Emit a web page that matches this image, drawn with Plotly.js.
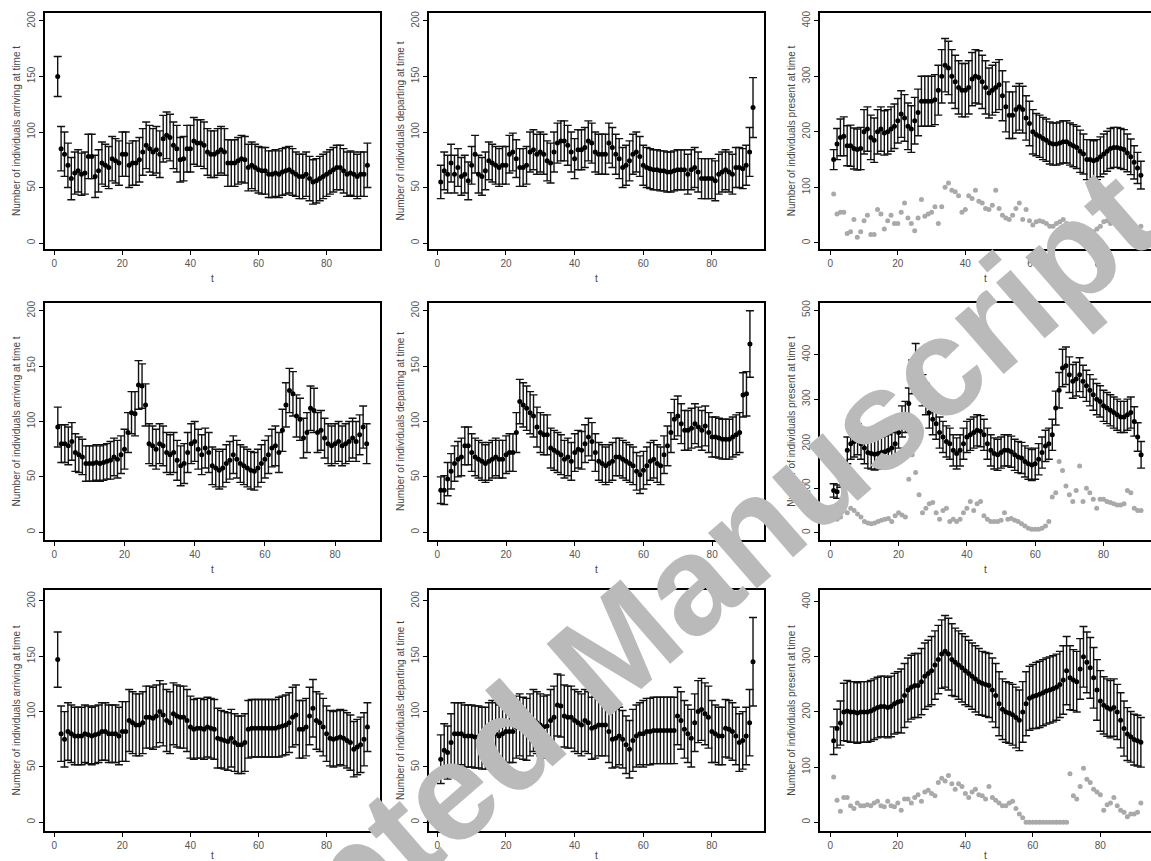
<!DOCTYPE html>
<html>
<head>
<meta charset="utf-8">
<script src="https://cdn.plot.ly/plotly-3.0.1.min.js"></script>
<style>html,body{margin:0;padding:0;background:#fff;}#chart{width:1151px;height:861px;}</style>
</head>
<body>
<div id="chart"></div>
<script>
// ---------- DATA ----------
// Row 1
const arrive1 = [150,85,80,70,58,63,65,62,63,78, 78,60,65,72,70,68,76,74,72,80, 80,70,72,72,75,82,88,85,82,84,
  80,94,97,95,88,85,75,76,85,85, 92,90,90,88,82,80,80,82,84,82, 72,72,72,74,76,75,68,70,68,66,
  65,65,62,62,63,62,64,65,66,64, 62,60,60,62,58,55,56,58,60,62, 64,66,68,68,65,62,63,62,60,62, 62,70];
const arrive1Err = [18,20,20,20,19,19,19,19,19,20, 20,19,19,19,19,19,20,20,20,20, 20,20,20,20,20,21,21,21,21,21,
  21,21,21,21,21,21,20,20,21,21, 21,21,21,21,21,21,21,21,21,21, 21,21,21,21,21,21,21,21,21,21,
  21,21,21,21,21,21,21,21,21,21, 20,20,20,20,20,20,20,20,20,20, 20,20,20,20,20,20,20,20,20,20, 20,20];
const depart1 = [55,65,62,72,62,68,60,62,56,70, 80,62,60,65,74,72,70,68,70,70, 80,82,76,68,68,70,82,84,80,82,
  80,74,72,82,90,92,92,88,82,76, 84,84,86,92,90,82,80,80,80,90, 86,80,76,68,70,74,80,82,78,70,
  68,67,66,66,65,65,64,64,65,66, 66,66,62,66,68,64,58,58,58,58, 56,62,64,66,64,62,68,68,67,70, 82,122];
const depart1Err = [15,17,17,17,17,17,17,17,17,17, 17,17,17,17,17,17,17,17,17,17, 17,17,17,17,17,17,18,18,18,18,
  18,18,18,18,18,18,18,18,18,18, 18,18,18,18,18,18,18,18,18,18, 18,18,18,18,18,18,18,18,18,18,
  18,18,18,18,18,18,18,18,18,18, 18,18,18,18,18,18,18,18,18,18, 18,18,18,18,18,18,18,18,18,18, 22,27];
const present1 = [150,178,190,192,175,175,170,168,170,200, 205,190,185,200,205,198,200,205,210,220,
  232,225,210,205,220,235,255,255,255,255, 258,275,300,320,315,300,290,280,275,275,
  280,295,300,298,290,280,270,275,280,285, 265,245,230,230,240,245,240,225,215,200,
  195,192,188,185,180,178,178,180,182,182, 178,175,172,165,160,150,150,148,150,155,
  160,165,170,172,172,170,168,162,155,145, 135,122];
const present1Err = [18,28,33,35,36,37,37,37,38,40, 40,40,40,40,40,40,40,40,40,40, 42,42,42,42,42,42,45,45,45,45,
  45,45,48,48,48,48,48,48,48,48, 48,48,48,48,48,48,45,45,45,45, 45,45,42,42,42,42,42,40,40,40,
  38,38,38,38,38,38,38,38,38,38, 38,38,38,38,36,36,36,36,36,36, 36,36,36,36,36,36,36,34,32,30, 28,25];
const observed1 = [88,52,55,55,17,20,42,10,20,40, 50,15,15,60,52,25,40,50,35,35, 55,72,45,35,22,45,78,48,52,55,
  65,35,65,100,108,95,92,85,55,60, 85,80,95,75,72,62,60,68,95,62, 50,45,42,50,62,72,42,60,40,32,
  38,40,38,35,30,30,35,38,42,35, 30,28,32,28,20,25,22,20,25,30, 38,40,35,38,40,35,30,28,25,22, 25,30];

// Row 2
const arrive2 = [95,80,80,78,82,72,70,68,62,62, 62,63,62,63,64,65,68,66,70,75, 90,108,107,133,132,115,80,78,75,80,
  78,72,70,72,65,60,62,72,80,82, 75,70,76,72,60,58,56,58,62,65, 70,66,62,60,58,56,55,58,62,66,
  70,76,78,72,92,115,128,125,105,102, 85,90,112,110,90,92,85,80,78,80, 82,78,80,82,85,82,88,95,80];
const arrive2Err = [18,17,17,17,17,17,16,16,16,16, 16,16,16,16,16,17,17,17,17,18, 18,19,20,22,20,19,18,18,18,18,
  18,18,18,18,18,18,18,18,18,18, 18,18,18,18,17,17,17,17,17,17, 17,17,17,17,17,17,17,17,17,17,
  17,17,18,18,19,20,20,20,19,19, 18,18,20,20,18,18,18,18,18,18, 18,18,18,18,18,18,18,19,18];
const depart2 = [38,38,48,55,62,66,68,78,78,72, 68,66,64,62,64,66,68,66,66,70, 72,72,90,118,115,112,108,105,95,90,
  88,88,76,74,72,70,66,68,64,72, 75,74,80,86,82,72,64,62,60,62, 64,68,68,66,64,62,60,55,52,56,
  60,64,66,62,60,70,78,90,102,105, 98,92,92,94,98,95,92,96,90,86, 86,85,84,84,84,86,88,90,124,125, 170];
const depart2Err = [12,13,15,16,16,16,17,17,17,17, 17,17,17,17,17,17,17,17,17,17, 17,17,18,20,20,20,19,19,18,18,
  18,18,18,18,18,18,17,17,17,17, 17,17,17,17,17,17,17,17,17,17, 17,17,17,17,17,17,17,17,17,17,
  17,17,17,17,17,17,18,18,18,18, 18,18,18,18,18,18,18,18,18,18, 18,18,18,18,18,18,18,18,20,20, 30];
const present2 = [95,92,120,140,185,200,205,210,200,190, 180,178,176,178,180,182,185,190,200,225,
  250,260,290,350,385,350,320,300,270,255, 245,225,215,205,200,185,178,185,200,215,
  220,225,230,228,220,200,185,178,175,180, 185,185,182,175,170,168,160,155,152,155,
  165,180,195,200,220,280,320,370,375,355, 340,345,355,340,330,320,310,300,295,285,
  280,275,270,265,260,260,265,270,250,215, 175];
const present2Err = [15,15,18,22,30,35,35,35,35,35, 35,35,35,35,35,35,35,35,35,35, 35,35,35,38,40,38,35,35,35,35,
  35,35,35,35,35,35,35,35,35,35, 35,35,35,35,35,35,35,35,35,35, 35,35,35,35,35,35,35,35,35,35,
  35,35,35,35,35,38,40,42,42,40, 38,38,38,36,35,35,35,35,35,35, 35,35,35,35,35,35,35,35,33,32, 30];
const observed2 = [35,30,35,50,45,55,50,42,35,25, 22,20,22,25,28,30,32,25,38,45, 40,35,120,175,135,85,45,55,65,68,
  45,30,50,55,25,30,25,30,45,55, 70,50,65,70,38,30,25,25,25,28, 45,30,32,28,25,20,15,10,8,8,
  8,10,15,25,80,90,160,140,105,85, 70,95,150,70,100,90,75,55,75,75, 70,68,65,62,62,65,95,90,55,50, 50];

// Row 3
const arrive3 = [147,80,75,82,80,78,78,78,80,79, 78,79,80,82,82,80,80,80,78,82, 82,92,90,88,88,90,95,95,94,96,
  100,97,92,90,98,96,95,95,92,86, 84,85,85,84,86,85,84,76,75,74, 73,76,72,70,70,72,84,85,85,85,
  85,85,85,85,85,86,87,88,90,95, 97,84,84,86,96,103,92,90,86,80, 76,75,76,77,76,74,72,66,68,70, 75,86];
const arrive3Err = [25,25,25,26,26,26,26,26,26,26, 26,26,26,26,26,26,26,26,26,27, 27,28,28,28,28,28,28,28,28,28,
  28,28,28,28,28,28,28,28,28,28, 27,27,27,27,27,27,27,27,26,26, 26,26,26,26,26,26,26,26,26,26,
  26,26,26,26,26,27,27,27,27,27, 27,26,26,26,26,26,26,26,26,25, 25,25,25,25,25,25,25,25,25,25, 24,22];
const depart3 = [57,65,63,72,80,80,80,78,78,78, 77,77,76,76,80,82,80,78,80,82, 82,82,86,88,85,84,88,92,90,88,
  86,87,92,95,106,105,96,95,95,92, 90,88,92,90,85,86,88,88,88,82, 75,76,78,75,70,66,74,78,80,80,
  82,82,83,83,83,83,83,83,83,96, 92,84,80,76,90,100,102,98,95,82, 80,78,78,85,84,82,78,72,74,78, 90,145];
const depart3Err = [22,24,24,26,28,28,28,28,28,28, 28,28,28,28,28,28,28,28,28,28, 28,28,28,28,28,28,28,28,28,28,
  28,28,28,28,28,28,28,28,28,28, 28,28,28,28,28,28,28,28,28,28, 26,26,26,26,26,26,28,28,28,30,
  30,30,30,30,30,30,30,30,30,26, 26,26,26,26,26,28,28,28,28,28, 26,26,26,26,26,26,26,26,26,26, 30,40];
const present3 = [148,170,180,200,202,200,200,198,200,200, 200,202,205,208,210,210,208,210,215,218,
  220,230,240,245,248,248,255,265,270,275, 285,295,305,310,305,295,290,285,280,275,
  270,265,260,255,252,250,248,240,230,215, 205,200,198,195,190,185,200,215,225,228,
  230,232,235,238,240,242,245,250,258,275, 262,258,255,278,300,290,280,262,240,220,
  212,208,205,208,200,185,170,160,155,150, 148,145];
const present3Err = [25,35,40,52,55,55,55,55,55,55, 55,55,55,55,55,55,55,55,55,55, 58,58,58,58,58,58,60,60,60,62,
  62,62,62,65,65,65,62,62,62,62, 60,60,60,60,58,58,58,58,58,58, 55,55,55,55,55,55,55,58,58,58,
  60,60,60,60,60,60,60,60,62,62, 58,55,55,55,55,55,55,55,55,55, 52,52,52,52,50,50,50,48,46,46, 46,45];
const observed3 = [82,40,20,45,45,30,25,35,30,30, 32,30,35,38,30,28,38,30,28,35, 22,42,42,35,45,50,38,55,58,52,
  48,72,80,75,85,70,60,70,65,52, 45,55,60,50,48,42,65,45,40,35, 30,30,35,38,25,15,8,0,0,0,
  0,0,0,0,0,0,0,0,0,0, 88,48,42,65,98,78,72,60,55,50, 22,32,35,45,30,22,18,10,15,15, 18,35];

const xTickVals = [0, 20, 40, 60, 80];
const yTicks200 = [0, 50, 100, 150, 200];
const yTicks400 = [0, 100, 200, 300, 400];
const yTicks500 = [0, 100, 200, 300, 400, 500];
const yTitles = ['Number of individuals arriving at time t',
                 'Number of individuals departing at time t',
                 'Number of individuals present at time t'];
const watermarkText = '<b>Accepted Manuscript</b>';

// ---------- LAYOUT GEOMETRY ----------
const W = 1151, H = 861;
const colsPx = [[45, 380], [429, 764], [820, 1151]];
const rowsPx = [[13, 249], [303, 540], [590, 831]];

const panels = [
  {r:0,c:0, y:arrive1,  e:arrive1Err,  xr:[-2.73,95.7], yr:[-5.4,207.2], yt:yTicks200},
  {r:0,c:1, y:depart1,  e:depart1Err,  xr:[-2.43,95.2], yr:[-5.4,207.2], yt:yTicks200},
  {r:0,c:2, y:present1, e:present1Err, g:observed1, xr:[-3.05,95.0], yr:[-11,414], yt:yTicks400},
  {r:1,c:0, y:arrive2,  e:arrive2Err,  xr:[-2.65,92.8], yr:[-7.0,207], yt:yTicks200},
  {r:1,c:1, y:depart2,  e:depart2Err,  xr:[-2.43,95.1], yr:[-7.0,207], yt:yTicks200},
  {r:1,c:2, y:present2, e:present2Err, g:observed2, xr:[-3.0,93.9], yr:[-16.4,516], yt:yTicks500},
  {r:2,c:0, y:arrive3,  e:arrive3Err,  xr:[-2.73,95.7], yr:[-7.9,209.9], yt:yTicks200},
  {r:2,c:1, y:depart3,  e:depart3Err,  xr:[-2.43,95.2], yr:[-7.9,209.9], yt:yTicks200},
  {r:2,c:2, y:present3, e:present3Err, g:observed3, xr:[-3.05,95.0], yr:[-15.8,421.2], yt:yTicks400}
];

const traces = [];
const layout = {
  width: W, height: H,
  margin: {l:0, r:0, t:0, b:0},
  paper_bgcolor: '#ffffff', plot_bgcolor: '#ffffff',
  showlegend: false, hovermode: false,
  font: {family: 'Liberation Sans, Arial, sans-serif', size: 10, color: '#444'},
  annotations: []
};

panels.forEach((p, i) => {
  const n = i + 1;
  const xa = 'x' + (n === 1 ? '' : n), ya = 'y' + (n === 1 ? '' : n);
  const xKey = 'xaxis' + (n === 1 ? '' : n), yKey = 'yaxis' + (n === 1 ? '' : n);
  const tvals = p.y.map((_, k) => k + 1);
  if (p.g) {
    traces.push({
      type: 'scatter', mode: 'markers', x: p.g.map((_, k) => k + 1), y: p.g,
      xaxis: xa, yaxis: ya,
      marker: {size: 5, color: '#a9a9a9'}
    });
  }
  traces.push({
    type: 'scatter', mode: 'markers', x: tvals, y: p.y,
    xaxis: xa, yaxis: ya,
    marker: {size: 5, color: '#000'},
    error_y: {type: 'data', array: p.e, visible: true, color: '#111', thickness: 1.4, width: 4}
  });
  const cx = colsPx[p.c], ry = rowsPx[p.r];
  layout[xKey] = {
    domain: [cx[0] / W, Math.min(1, cx[1] / W)],
    anchor: ya, range: p.xr, tickvals: xTickVals,
    ticks: 'outside', ticklen: 4, tickwidth: 1, tickcolor: '#000',
    showline: true, mirror: true, linecolor: '#000', linewidth: 1.6,
    showgrid: false, zeroline: false,
    tickfont: {size: 10, color: '#555'},
    title: {text: 't', font: {size: 10, color: '#444'}, standoff: 7}
  };
  layout[yKey] = {
    domain: [1 - ry[1] / H, 1 - ry[0] / H],
    anchor: xa, range: p.yr, tickvals: p.yt, tickangle: -90,
    ticks: 'outside', ticklen: 4, tickwidth: 1, tickcolor: '#000',
    showline: true, mirror: true, linecolor: '#000', linewidth: 1.6,
    showgrid: false, zeroline: false,
    tickfont: {size: 10, color: '#555'},
    title: {text: yTitles[p.c], font: {size: 10, color: '#444'}, standoff: 4}
  };
});

layout.annotations.push({
  xref: 'paper', yref: 'paper', x: 600 / W, y: 1 - 660 / H,
  xanchor: 'center', yanchor: 'middle', showarrow: false,
  text: watermarkText, textangle: -41,
  font: {family: 'Liberation Sans, Arial, sans-serif', size: 140, color: '#bababa'}
});

Plotly.newPlot('chart', traces, layout, {staticPlot: true, displayModeBar: false});
</script>
</body>
</html>
